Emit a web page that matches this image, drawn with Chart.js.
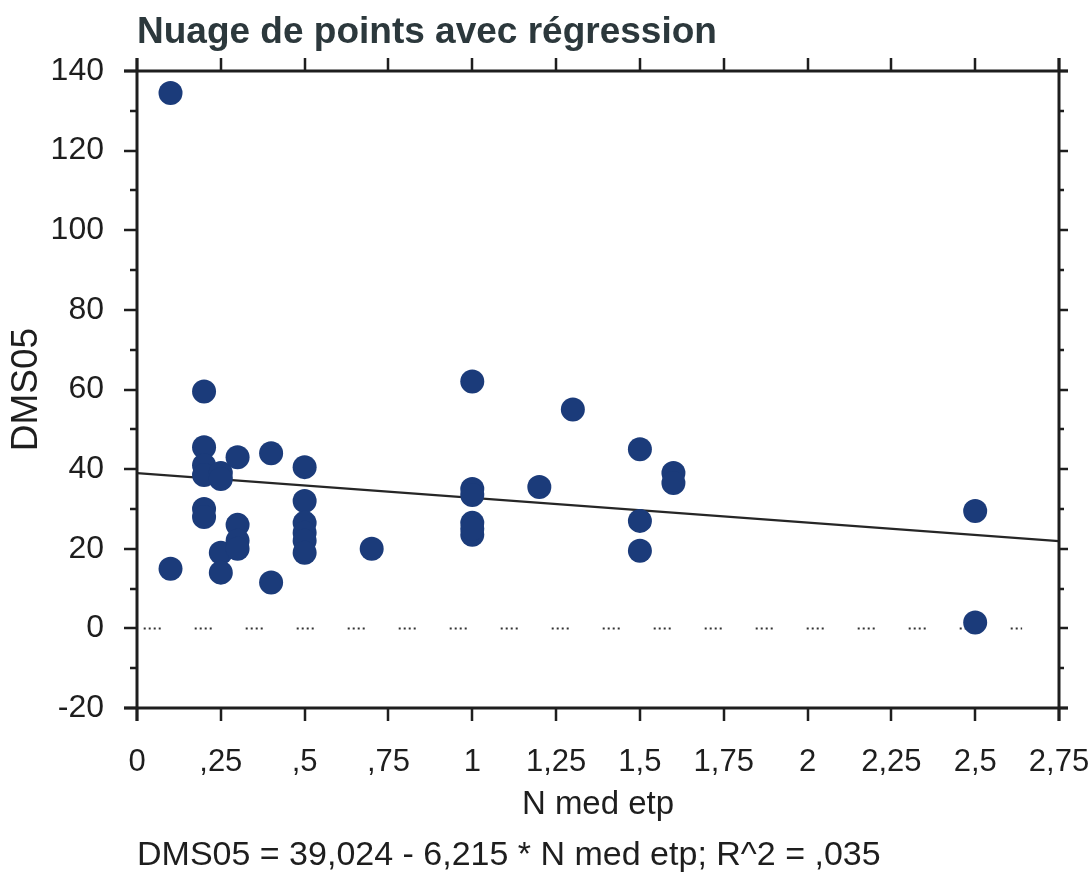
<!DOCTYPE html>
<html>
<head>
<meta charset="utf-8">
<script src="https://cdn.jsdelivr.net/npm/chart.js@4.4.1/dist/chart.umd.min.js"></script>
<style>
html,body{margin:0;padding:0;background:#fff;}
#wrap{width:1091px;height:873px;}
</style>
</head>
<body>
<div id="wrap"><canvas id="c" width="1091" height="873"></canvas></div>
<script>
// ---- data ----
const nMedEtp = [0.1, 0.1, 0.2, 0.2, 0.2, 0.2, 0.2, 0.2, 0.25, 0.25, 0.25, 0.25, 0.3, 0.3, 0.3, 0.3, 0.4, 0.4,
  0.5, 0.5, 0.5, 0.5, 0.5, 0.5, 0.7, 1, 1, 1, 1, 1, 1, 1.2, 1.3, 1.5, 1.5, 1.5, 1.6, 1.6, 2.5, 2.5];
const dms05 = [134.5, 15, 59.5, 45.5, 41, 38.5, 30, 28, 39, 37.5, 19, 14, 43, 26, 22, 20, 44, 11.5,
  40.5, 32, 26.5, 24, 22, 19, 20, 62, 35, 33.5, 26.5, 23.5, 25, 35.5, 55, 45, 27, 19.5, 39, 36.5, 29.5, 1.5];
const regressionX = [0, 2.75];
const regressionY = [39.0, 21.9];
const zeroLineX = [0.02, 2.64];
const zeroLineY = [0, 0];
const xTickValues = [0, 0.25, 0.5, 0.75, 1, 1.25, 1.5, 1.75, 2, 2.25, 2.5, 2.75];
const xTickLabels = ['0', ',25', ',5', ',75', '1', '1,25', '1,5', '1,75', '2', '2,25', '2,5', '2,75'];
const yTickValues = [-20, 0, 20, 40, 60, 80, 100, 120, 140];
const yTickLabels = ['-20', '0', '20', '40', '60', '80', '100', '120', '140'];
const yMinorValues = [-10, 10, 30, 50, 70, 90, 110, 130];
const titleText = 'Nuage de points avec régression';
const xTitle = 'N med etp';
const yTitle = 'DMS05';
const footerText = 'DMS05 = 39,024 - 6,215 * N med etp; R^2 = ,035';

const FONT = '"Liberation Sans", Arial, sans-serif';
const AXIS = '#1e1e1e';

const framePlugin = {
  id: 'frame',
  afterDraw(chart) {
    const {ctx, scales: {x, y}} = chart;
    ctx.save();
    ctx.strokeStyle = AXIS;
    ctx.lineWidth = 3;
    ctx.lineCap = 'butt';
    const L = x.getPixelForValue(0), R = x.getPixelForValue(2.75);
    const T = y.getPixelForValue(140), B = y.getPixelForValue(-20);
    ctx.beginPath();
    ctx.moveTo(L - 13, T); ctx.lineTo(R + 9, T);
    ctx.moveTo(L - 13, B); ctx.lineTo(R + 9, B);
    ctx.moveTo(L, T - 13); ctx.lineTo(L, B + 13);
    ctx.moveTo(R, T - 13); ctx.lineTo(R, B + 13);
    ctx.stroke();
    ctx.lineWidth = 2.5;
    ctx.beginPath();
    xTickValues.forEach(v => {
      const px = Math.round(x.getPixelForValue(v));
      ctx.moveTo(px, B); ctx.lineTo(px, B + 13);
      ctx.moveTo(px, T); ctx.lineTo(px, T - 13);
    });
    yTickValues.forEach(v => {
      const py = Math.round(y.getPixelForValue(v));
      ctx.moveTo(L, py); ctx.lineTo(L - 13, py);
      ctx.moveTo(R, py); ctx.lineTo(R + 9, py);
    });
    yMinorValues.forEach(v => {
      const py = Math.round(y.getPixelForValue(v));
      ctx.moveTo(L, py); ctx.lineTo(L - 7, py);
      ctx.moveTo(R, py); ctx.lineTo(R + 5, py);
    });
    ctx.stroke();
    ctx.restore();
  }
};

new Chart(document.getElementById('c'), {
  type: 'scatter',
  data: {
    datasets: [
      {
        label: 'DMS05',
        data: nMedEtp.map((v, i) => ({x: v, y: dms05[i]})),
        backgroundColor: '#1b3b7a',
        borderColor: '#1b3b7a',
        borderWidth: 0,
        pointRadius: 12,
        pointHoverRadius: 12,
        order: 0
      },
      {
        type: 'line',
        label: 'Régression',
        data: regressionX.map((v, i) => ({x: v, y: regressionY[i]})),
        borderColor: '#262626',
        borderWidth: 2.2,
        pointRadius: 0,
        fill: false,
        order: 1
      },
      {
        type: 'line',
        label: 'zero',
        data: zeroLineX.map((v, i) => ({x: v, y: zeroLineY[i]})),
        borderColor: '#333',
        borderWidth: 2,
        borderDash: [2, 3, 2, 3, 2, 3, 2, 34],
        pointRadius: 0,
        fill: false,
        order: 2
      }
    ]
  },
  options: {
    responsive: false,
    animation: false,
    events: [],
    layout: {padding: {left: 0, right: 32, top: 0, bottom: 0}},
    plugins: {
      legend: {display: false},
      tooltip: {enabled: false},
      title: {
        display: true,
        text: titleText,
        align: 'start',
        fullSize: false,
        color: '#2c383c',
        font: {family: FONT, size: 37, weight: 'bold', lineHeight: 1.2},
        padding: {top: 11, bottom: 15.6}
      },
      subtitle: {
        display: true,
        position: 'bottom',
        text: footerText,
        align: 'start',
        fullSize: false,
        color: '#1e1e1e',
        font: {family: FONT, size: 34, weight: 'normal', lineHeight: 1},
        padding: {top: 10, bottom: 0}
      }
    },
    scales: {
      x: {
        type: 'linear',
        min: 0,
        max: 2.75,
        afterBuildTicks: s => { s.ticks = xTickValues.map(v => ({value: v})); },
        afterFit: s => { s.height = 121; },
        grid: {display: true, drawOnChartArea: false, drawTicks: true, tickLength: 36, color: 'rgba(0,0,0,0)'},
        border: {display: false},
        ticks: {
          color: '#1e1e1e',
          padding: 0,
          maxRotation: 0,
          autoSkip: false,
          font: {family: FONT, size: 31},
          callback: (v) => xTickLabels[xTickValues.indexOf(v)]
        },
        title: {
          display: true,
          text: xTitle,
          color: '#1e1e1e',
          font: {family: FONT, size: 33},
          padding: {top: 0, bottom: 4}
        }
      },
      y: {
        type: 'linear',
        min: -20,
        max: 140,
        afterBuildTicks: s => { s.ticks = yTickValues.map(v => ({value: v})); },
        afterFit: s => { s.width = 137; },
        grid: {display: false},
        border: {display: false},
        ticks: {
          color: '#1e1e1e',
          padding: 25,
          autoSkip: false,
          font: {family: FONT, size: 32},
          callback: (v) => yTickLabels[yTickValues.indexOf(v)]
        },
        title: {
          display: true,
          text: yTitle,
          color: '#1e1e1e',
          font: {family: FONT, size: 37},
          padding: {top: 5, bottom: 0}
        }
      }
    }
  },
  plugins: [framePlugin]
});
</script>
</body>
</html>
